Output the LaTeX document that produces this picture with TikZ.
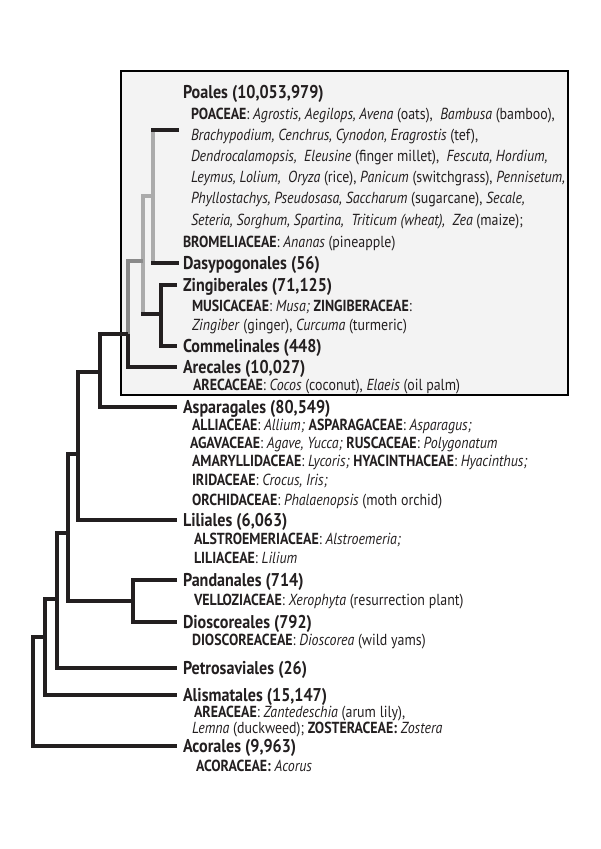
\documentclass[tikz,border=0pt]{standalone}
\usepackage{fontspec}
\setmainfont{PT Sans}[FakeStretch=0.87]
\usepackage{xcolor}
\usepackage{tikz}
\usetikzlibrary{calc}
\usetikzlibrary{positioning}
\definecolor{treedark}{HTML}{231F20}
\definecolor{treelight}{HTML}{ABABAB}
\definecolor{treemid}{HTML}{8A8A8A}
\definecolor{boxfill}{HTML}{F3F3F3}
\newcommand{\genus}[1]{\textit{#1}}
\newcommand{\famname}[1]{\textbf{#1}}
\tikzset{
	order/.style={font=\fontsize{18.5}{21}\selectfont\bfseries, anchor=west, inner xsep=6pt, inner ysep=0pt, outer sep=0pt, text height=13pt, text depth=0pt, text=treedark},
	family/.style={font=\fontsize{16}{19}\selectfont, anchor=base west, inner sep=0pt, outer sep=0pt, text=treedark},
	treeline/.style={line width=3.2pt, treedark},
	greyline/.style={line width=3.2pt, treelight},
	midline/.style={line width=3.2pt, treemid},
}
\begin{document}
\begin{tikzpicture}[x=1pt,y=-1pt]
		\useasboundingbox (0,0) rectangle (600,849);
		\draw[line width=2.4pt, fill=boxfill] (121,71) rectangle (568,395);
		\node[order] (poales) at (177,92) {Poales (10,053,979)};
		\node[family] (poa1) at (191,119) {\famname{POACEAE}: \genus{Agrostis, Aegilops, Avena} (oats),\ \ \genus{Bambusa} (bamboo),};
		\node[family] (poa2) at (191,140) {\genus{Brachypodium, Cenchrus, Cynodon, Eragrostis} (tef),};
		\node[family] (poa3) at (191,161) {\genus{Dendrocalamopsis,}\ \ \genus{Eleusine} (finger millet),\ \ \genus{Fescuta, Hordium,}};
		\node[family] (poa4) at (191,182) {\genus{Leymus, Lolium,}\ \ \genus{Oryza} (rice), \genus{Panicum} (switchgrass), \genus{Pennisetum,}};
		\node[family] (poa5) at (191,203) {\genus{Phyllostachys, Pseudosasa, Saccharum} (sugarcane), \genus{Secale,}};
		\node[family] (poa6) at (191,225) {\genus{Seteria, Sorghum, Spartina,}\ \ \genus{Triticum (wheat),}\ \ \genus{Zea} (maize);};
		\node[family] (brom) at (183,247) {\famname{BROMELIACEAE}: \genus{Ananas} (pineapple)};
		\node[order] (dasy) at (177,263) {Dasypogonales (56)};
		\node[order] (zing) at (177,285) {Zingiberales (71,125)};
		\node[family] (musa) at (192,311) {\famname{MUSICACEAE}: \genus{Musa;} \famname{ZINGIBERACEAE}:};
		\node[family] (ginger) at (192,330) {\genus{Zingiber} (ginger), \genus{Curcuma} (turmeric)};
		\node[order] (comm) at (177,346) {Commelinales (448)};
		\node[order] (arec) at (177,367) {Arecales (10,027)};
		\node[family] (palm) at (193,390) {\famname{ARECACEAE}: \genus{Cocos} (coconut), \genus{Elaeis} (oil palm)};
		\node[order] (aspar) at (177,407) {Asparagales (80,549)};
		\node[family] (allium) at (192,430) {\famname{ALLIACEAE}: \genus{Allium;} \famname{ASPARAGACEAE}: \genus{Asparagus;}};
		\node[family] (agave) at (190,448) {\famname{AGAVACEAE}: \genus{Agave, Yucca;} \famname{RUSCACEAE}: \genus{Polygonatum}};
		\node[family] (lycoris) at (192,466) {\famname{AMARYLLIDACEAE}: \genus{Lycoris;} \famname{HYACINTHACEAE}: \genus{Hyacinthus;}};
		\node[family] (iris) at (192,485) {\famname{IRIDACEAE}: \genus{Crocus, Iris;}};
		\node[family] (orchid) at (192,505) {\famname{ORCHIDACEAE}: \genus{Phalaenopsis} (moth orchid)};
		\node[order] (lili) at (177,520) {Liliales (6,063)};
		\node[family] (alstro) at (194,544) {\famname{ALSTROEMERIACEAE}: \genus{Alstroemeria;}};
		\node[family] (lilium) at (194,563) {\famname{LILIACEAE}: \genus{Lilium}};
		\node[order] (pand) at (177,580) {Pandanales (714)};
		\node[family] (xero) at (194,605) {\famname{VELLOZIACEAE}: \genus{Xerophyta} (resurrection plant)};
		\node[order] (dios) at (177,622) {Dioscoreales (792)};
		\node[family] (yams) at (192,645) {\famname{DIOSCOREACEAE}: \genus{Dioscorea} (wild yams)};
		\node[order] (petro) at (177,668) {Petrosaviales (26)};
		\node[order] (alism) at (177,695) {Alismatales (15,147)};
		\node[family] (arum) at (194,717) {\famname{AREACEAE}: \genus{Zantedeschia} (arum lily),};
		\node[family] (lemna) at (192,733) {\genus{Lemna} (duckweed); \famname{ZOSTERACEAE:} \genus{Zostera}};
		\node[order] (acor) at (177,746) {Acorales (9,963)};
		\node[family] (acorus) at (196,771) {\famname{ACORACEAE:} \genus{Acorus}};
		\coordinate (poalesend) at (177,130);
		\coordinate (nA) at (153,196);
		\coordinate (nB) at (143,261);
		\coordinate (nC) at (161,314);
		\coordinate (nD) at (128,334);
		\coordinate (nE) at (100,372);
		\coordinate (nF) at (78,454);
		\coordinate (nG) at (133,601);
		\coordinate (nH) at (68,533);
		\coordinate (nI) at (57,599);
		\coordinate (nJ) at (45,637);
		\coordinate (nK) at (33,690);
		\draw[greyline] (poalesend -| nA) -- (dasy.west -| nA);
		\draw[treeline, line cap=rect] (poalesend -| nA) -- (poalesend);
		\draw[treeline, line cap=rect] (dasy.west -| nA) -- (dasy.west);
		\draw[greyline] (nA) -| (nB) -- (nB |- nC);
		\draw[treeline, line cap=rect] (nB |- nC) -- (nC);
		\draw[treeline] (zing.west) -| (nC) |- (comm.west);
		\draw[midline] (nB) -| (nD);
		\draw[treeline] (nD) |- (arec.west);
		\draw[treeline] (nD) -| (nE) |- (aspar.west);
		\draw[treeline] (nE) -| (nF) |- (lili.west);
		\draw[treeline] (pand.west) -| (nG) |- (dios.west);
		\draw[treeline] (nF) -| (nH) |- (nG);
		\draw[treeline] (nH) -| (nI) |- (petro.west);
		\draw[treeline] (nI) -| (nJ) |- (alism.west);
		\draw[treeline] (nJ) -| (nK) |- (acor.west);
	\end{tikzpicture}
\end{document}
